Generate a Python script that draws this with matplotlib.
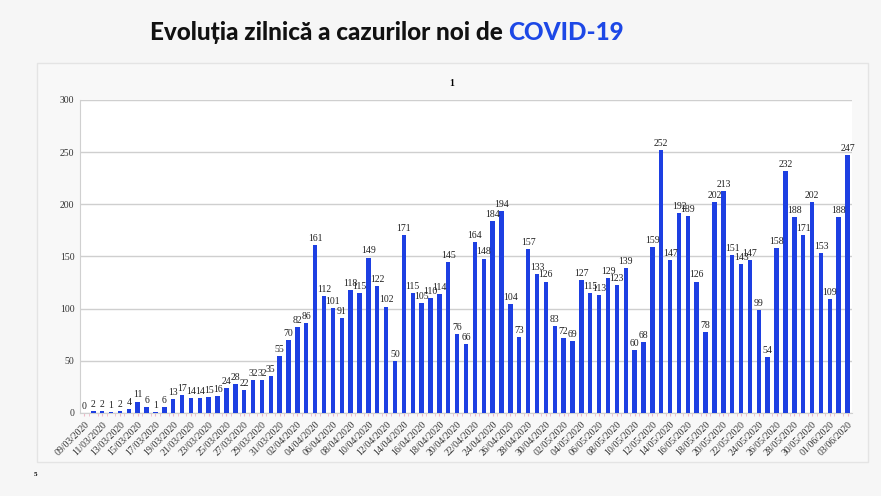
import matplotlib
matplotlib.use("Agg")
import matplotlib.pyplot as plt
from matplotlib.patches import Rectangle
from datetime import date, timedelta

# ---- data ----
start_day = date(2020, 3, 9)
new_cases = [0, 2, 2, 1, 2, 4, 11, 6, 1, 6, 13, 17, 14, 14, 15, 16, 24, 28, 22, 32,
             32, 35, 55, 70, 82, 86, 161, 112, 101, 91, 118, 115, 149, 122, 102, 50,
             171, 115, 105, 110, 114, 145, 76, 66, 164, 148, 184, 194, 104, 73, 157,
             133, 126, 83, 72, 69, 127, 115, 113, 129, 123, 139, 60, 68, 159, 252,
             147, 192, 189, 126, 78, 202, 213, 151, 143, 147, 99, 54, 158, 232, 188,
             171, 202, 153, 109, 188, 247]
day_labels = [(start_day + timedelta(days=i)).strftime("%d/%m/%Y") for i in range(len(new_cases))]
y_ticks = [0, 50, 100, 150, 200, 250, 300]

BAR_COLOR = "#1d3fe2"
BG = "#f6f6f6"
SERIF = ["Liberation Serif", "DejaVu Serif"]

fig = plt.figure(figsize=(8.81, 4.96), dpi=100)
fig.patch.set_facecolor(BG)

# chart frame
W, H = 881, 496
frame = Rectangle((37 / W, 1 - 462 / H), (868 - 37) / W, (462 - 63) / H,
                  transform=fig.transFigure, facecolor="#f8f8f8",
                  edgecolor="#e4e4e4", linewidth=1, zorder=-1)
fig.patches.append(frame)

ax = fig.add_axes([80 / W, 1 - 413 / H, (852 - 80) / W, (413 - 100) / H])
ax.set_facecolor("white")

x = list(range(len(new_cases)))
bars = ax.bar(x, new_cases, width=0.5, color=BAR_COLOR, zorder=3)

for xi, v in zip(x, new_cases):
    ax.text(xi, v + 2, str(v), ha="center", va="bottom", fontsize=7,
            family=SERIF, color="#222222", zorder=4)

ax.set_xlim(-0.5, len(new_cases) - 0.5)
ax.set_ylim(0, 300)
ax.set_yticks(y_ticks)
ax.set_yticklabels([str(t) for t in y_ticks], fontsize=7, family=SERIF, color="#333333")
ax.yaxis.grid(True, color="#cfcfcf", linewidth=1, zorder=0)
ax.set_axisbelow(True)

ax.set_xticks(x[::2])
ax.set_xticklabels(day_labels[::2], rotation=45, ha="right", rotation_mode="anchor",
                   fontsize=7, family=SERIF, color="#333333")
ax.set_xticks([i + 0.5 for i in x[:-1]], minor=True)
ax.tick_params(axis="x", which="both", length=2, color="#f0b8c8", pad=3)
ax.tick_params(axis="y", length=0, pad=4)

for side in ["top", "right"]:
    ax.spines[side].set_visible(False)
ax.spines["left"].set_color("#d0d0d0")
ax.spines["bottom"].set_color("#d0d0d0")

# chart labels
fig.text(452 / W, 1 - 83 / H, "1", ha="center", va="center", fontsize=7,
         fontweight="bold", family=SERIF)
fig.text(35 / W, 1 - 474 / H, "5", ha="center", va="center", fontsize=5,
         fontweight="bold", family=SERIF)

# title, two colours
title_kw = dict(fontsize=17.5, fontweight="black", family=["Lato", "Open Sans", "DejaVu Sans"])
t1 = fig.text(150 / W, 1 - 33 / H, "Evoluția zilnică a cazurilor noi de ", ha="left",
              va="center", color="#111111", **title_kw)
fig.canvas.draw()
bb = t1.get_window_extent()
fig.text(bb.x1 / fig.bbox.width, 1 - 33 / H, "COVID-19", ha="left", va="center",
         color="#1d48e6", **title_kw)

fig.savefig("out.png", dpi=100, facecolor=BG)
